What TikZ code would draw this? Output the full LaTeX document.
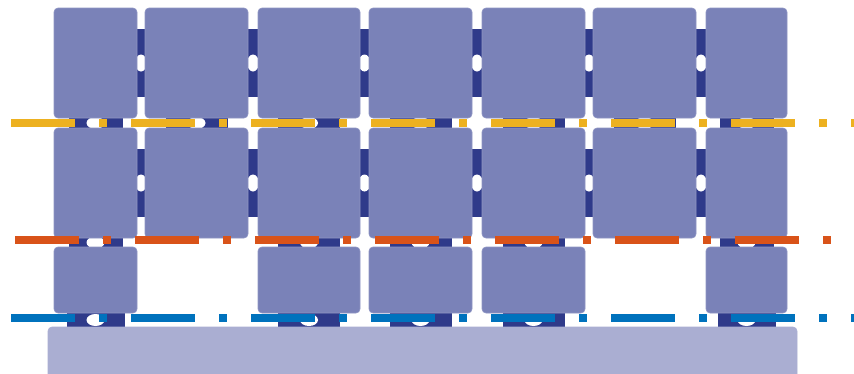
\documentclass[tikz,border=0pt]{standalone}
\usepackage{tikz}
\usepackage{xcolor}
\usetikzlibrary{calc,backgrounds}

\definecolor{cellblue}{HTML}{7A82B8}
\definecolor{linkblue}{HTML}{2F3A8A}
\definecolor{baseblue}{HTML}{AAAED2}
\definecolor{lineyellow}{HTML}{EDB120}
\definecolor{lineorange}{HTML}{D95319}
\definecolor{lineblue}{HTML}{0072BD}

\tikzset{
  cell/.style={rectangle, rounded corners=4pt, fill=cellblue, draw=cellblue!85!white, line width=0.6pt, inner sep=0pt},
  dashline/.style={line width=8pt, dash pattern=on 64pt off 24pt on 8pt off 24pt}
}

% links sit on the background layer, under the cells
\newcommand{\hlink}[2]{%
  \begin{scope}[on background layer]
    \fill[linkblue] ($(#1.east)+(-3,-34)$) rectangle ($(#2.west)+(3,34)$);
    \fill[white] ($(#1.east)!0.5!(#2.west)$) ellipse [x radius=6pt, y radius=8.5pt];
  \end{scope}}
\newcommand{\vlink}[3][31]{%
  \begin{scope}[on background layer]
    \fill[linkblue] ($(#2.south)+(-#1,-3)$) rectangle ($(#2.south |- #3.north)+(#1,3)$);
    \fill[white] ($(#2.south)!0.5!(#2.south |- #3.north)$) ellipse [x radius=9pt, y radius=6pt];
  \end{scope}}

\begin{document}
\begin{tikzpicture}[x=1pt,y=-1pt]
    \useasboundingbox (0,0) rectangle (854,373);

    % Base
    \node[cell, fill=baseblue, draw=baseblue, minimum width=749pt, minimum height=70pt] (base) at (422.5,362) {};

    % Row 1
    \node[cell, minimum width=83pt, minimum height=110pt] (a1) at (95.5,63) {};
    \node[cell, minimum width=103pt, minimum height=110pt] (a2) at (196.5,63) {};
    \node[cell, minimum width=102pt, minimum height=110pt] (a3) at (309,63) {};
    \node[cell, minimum width=103pt, minimum height=110pt] (a4) at (420.5,63) {};
    \node[cell, minimum width=103pt, minimum height=110pt] (a5) at (533.5,63) {};
    \node[cell, minimum width=103pt, minimum height=110pt] (a6) at (644.5,63) {};
    \node[cell, minimum width=81pt, minimum height=110pt] (a7) at (746.5,63) {};

    % Row 2
    \node[cell, minimum width=83pt, minimum height=110pt] (b1) at (95.5,183) {};
    \node[cell, minimum width=103pt, minimum height=110pt] (b2) at (196.5,183) {};
    \node[cell, minimum width=102pt, minimum height=110pt] (b3) at (309,183) {};
    \node[cell, minimum width=103pt, minimum height=110pt] (b4) at (420.5,183) {};
    \node[cell, minimum width=103pt, minimum height=110pt] (b5) at (533.5,183) {};
    \node[cell, minimum width=103pt, minimum height=110pt] (b6) at (644.5,183) {};
    \node[cell, minimum width=81pt, minimum height=110pt] (b7) at (746.5,183) {};

    % Row 3
    \node[cell, minimum width=83pt, minimum height=66pt] (c1) at (95.5,280) {};
    \node[cell, minimum width=102pt, minimum height=66pt] (c3) at (309,280) {};
    \node[cell, minimum width=103pt, minimum height=66pt] (c4) at (420.5,280) {};
    \node[cell, minimum width=103pt, minimum height=66pt] (c5) at (533.5,280) {};
    \node[cell, minimum width=81pt, minimum height=66pt] (c7) at (746.5,280) {};

    % Links in the rows
    \hlink{a1}{a2} \hlink{a2}{a3} \hlink{a3}{a4} \hlink{a4}{a5} \hlink{a5}{a6} \hlink{a6}{a7}
    \hlink{b1}{b2} \hlink{b2}{b3} \hlink{b3}{b4} \hlink{b4}{b5} \hlink{b5}{b6} \hlink{b6}{b7}

    % Links between the rows
    \vlink[27]{a1}{b1} \vlink{a2}{b2} \vlink{a3}{b3} \vlink{a4}{b4} \vlink{a5}{b5} \vlink{a6}{b6} \vlink[27]{a7}{b7}
    \vlink[27]{b1}{c1} \vlink{b3}{c3} \vlink{b4}{c4} \vlink{b5}{c5} \vlink[27]{b7}{c7}
    \vlink[29]{c1}{base} \vlink{c3}{base} \vlink{c4}{base} \vlink{c5}{base} \vlink[29]{c7}{base}

    % Dash-dot levels
    \draw[dashline, lineyellow] (11,123) -- (870,123);
    \draw[dashline, lineorange] (15,240) -- (870,240);
    \draw[dashline, lineblue] (11,318) -- (870,318);
\end{tikzpicture}
\end{document}
